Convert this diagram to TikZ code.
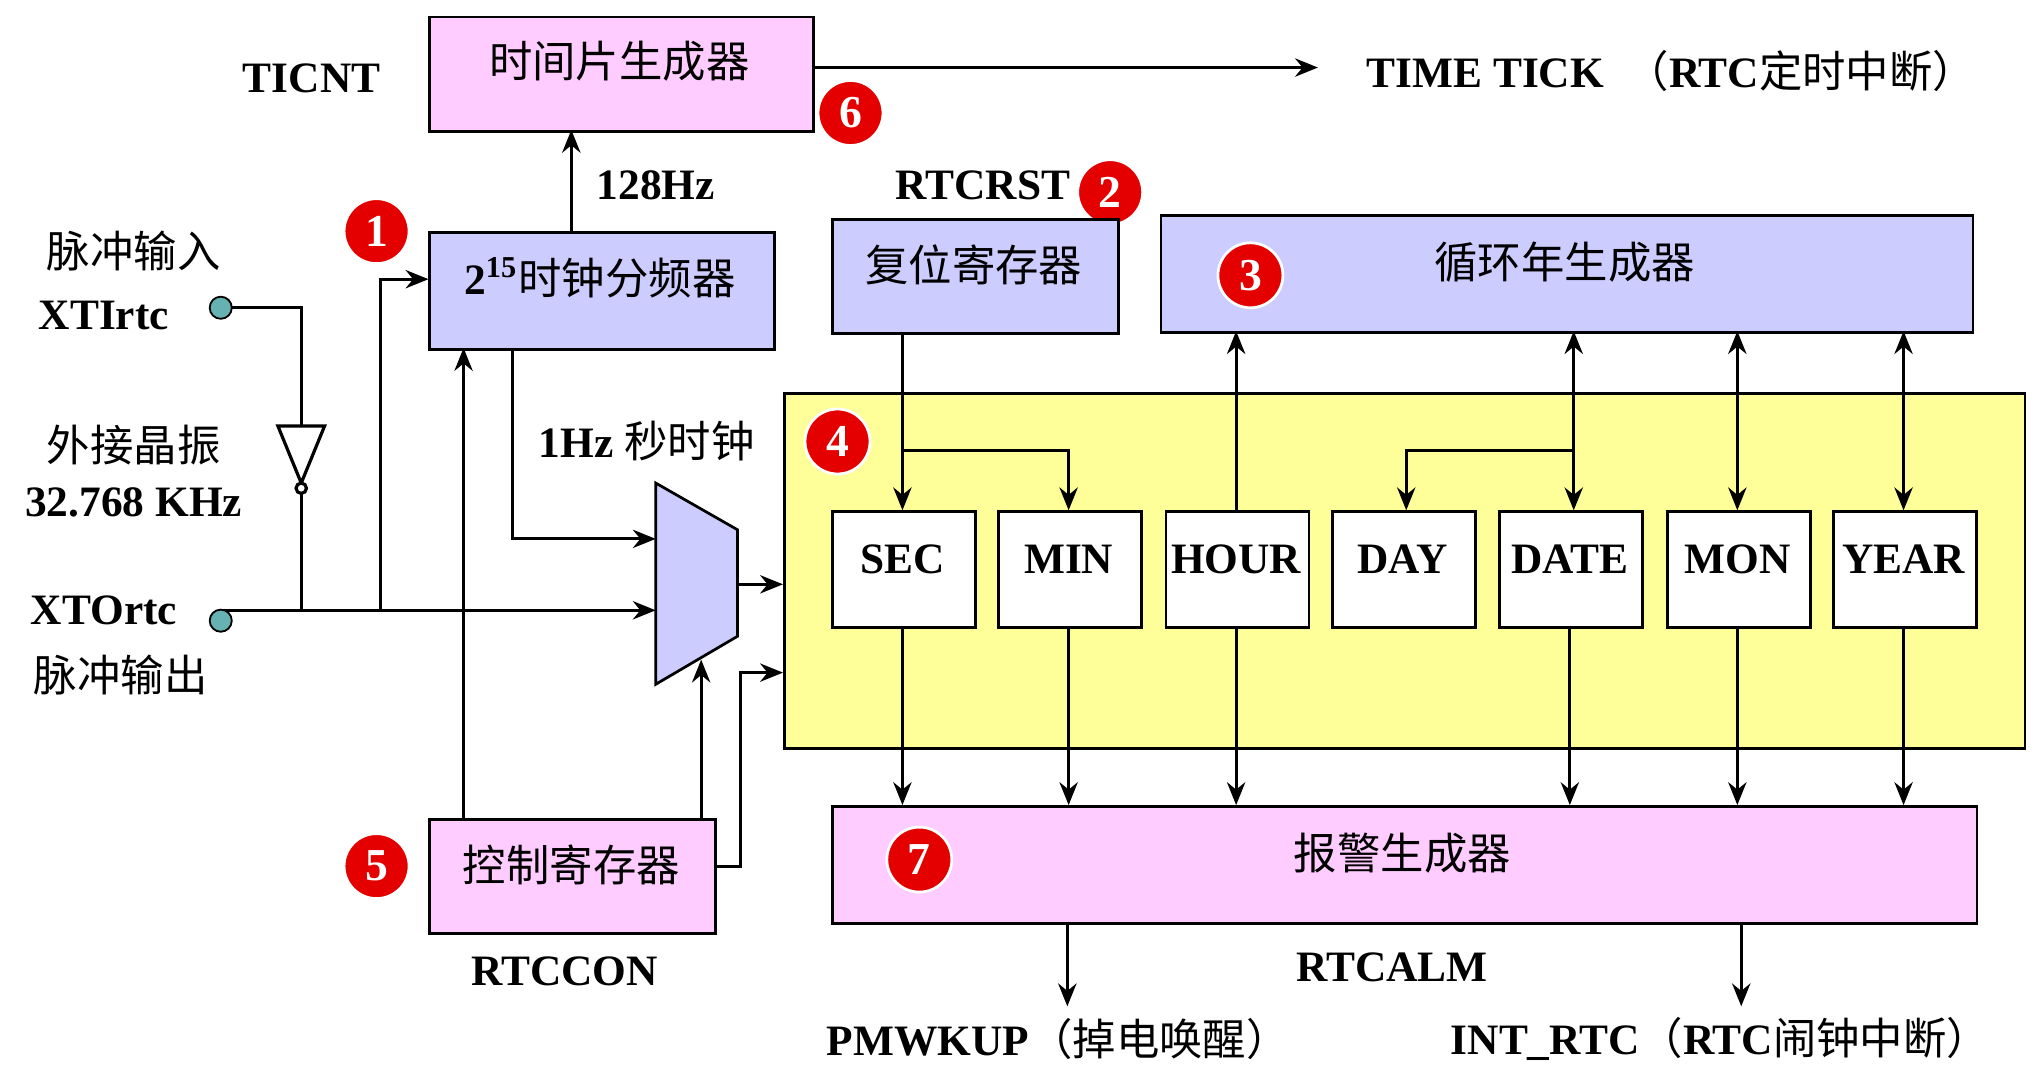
\documentclass[tikz,border=0pt]{standalone}
\usepackage{fontspec}
\setmainfont{Liberation Serif}
\newfontfamily\cjkf{Noto Sans CJK SC}
\newcommand\cjk{\cjkf\mdseries}
\usetikzlibrary{arrows.meta}
\begin{document}
\begin{tikzpicture}[x=0.01cm,y=-0.01cm,
  every node/.style={font=\fontsize{9.5}{11}\selectfont\bfseries},
  box/.style={draw,line width=0.6pt,anchor=north west,inner sep=0},
  pinkb/.style={box,fill=pinkc},
  blueb/.style={box,fill=bluec},
  reg/.style={box,fill=white,minimum width=1.1cm,minimum height=0.89cm},
  num/.style={circle,fill=red!90!black,draw=white,line width=0.6pt,text=white,inner sep=0,minimum size=0.5cm,font=\fontsize{10}{11}\selectfont\bfseries},
  term/.style={circle,fill=teal!60,draw=black,line width=0.4pt,inner sep=0,minimum size=0.17cm},
  ar/.style={-{Stealth[length=5pt,width=4pt]},line width=0.7pt},
  dar/.style={{Stealth[length=5pt,width=4pt]}-{Stealth[length=5pt,width=4pt]},line width=0.7pt},
  ln/.style={line width=0.7pt}]
\definecolor{pinkc}{HTML}{FFCCFF}
\definecolor{bluec}{HTML}{CCCCFF}
\definecolor{yelc}{HTML}{FFFF99}
\useasboundingbox (0,0) rectangle (1568,826);
% boxes
\node[pinkb,minimum width=2.95cm,minimum height=0.88cm] (b6) at (330,12) {};
\node at (477,47) {\cjk 时间片生成器};
\node at (240,60) {TICNT};
\node[num] (n6) at (655,87) {6};
\coordinate (tt) at (1015,52);
\draw[ar] (625,52) -- (tt);
\node[anchor=west] (ttl) at (1040,55) {TIME TICK \ {\cjk （}RTC{\cjk 定时中断）}};
\node[blueb,minimum width=2.65cm,minimum height=0.9cm] (b1) at (330,178) {};
\node at (462,214) {2\textsuperscript{15}{\cjk 时钟分频器}};
\node[num] (n1) at (290,178) {1};
\draw[ar] (440,178) -- (440,100);
\node at (505,143) {128Hz};
\node at (757,143) {RTCRST};
\node[num] (n2) at (855,148) {2};
\node[blueb,minimum width=2.2cm,minimum height=0.88cm] (b2) at (640,168) {};
\node at (750,204) {\cjk 复位寄存器};
\node[blueb,minimum width=6.25cm,minimum height=0.9cm] (b3) at (893,165) {};
\node at (1205,202) {\cjk 循环年生成器};
\node[num] (n3) at (963,212) {3};
\node[box,fill=yelc,minimum width=9.55cm,minimum height=2.73cm] (b4) at (603,302) {};
\node[num] (n4) at (645,340) {4};
\foreach \n/\x in {SEC/640,MIN/768,HOUR/897,DAY/1025,DATE/1154,MON/1283,YEAR/1411}{
  \node[reg] (\n) at (\x,393) {};
  \node at (\x+55,431) {\n};
}
\node[pinkb,minimum width=8.81cm,minimum height=0.9cm] (b7) at (640,620) {};
\node at (1080,657) {\cjk 报警生成器};
\node[num] (n7) at (708,662) {7};
\node at (1072,745) {RTCALM};
\draw[ar] (822,710) -- (822,775);
\draw[ar] (1341,710) -- (1341,775);
\node (pm) at (815,800) {PMWKUP{\cjk （掉电唤醒）}};
\node (ir) at (1325,800) {INT\_RTC{\cjk （}RTC{\cjk 闹钟中断）}};
\foreach \x in {695,823,952,1209,1338,1466} \draw[ar] (\x,482) -- (\x,620);
\draw[ar] (695,256) -- (695,393);
\draw[ar] (695,347) -- (823,347) -- (823,393);
\draw[ar] (952,393) -- (952,255);
\draw[dar] (1212,255) -- (1212,393);
\draw[ar] (1212,347) -- (1083,347) -- (1083,393);
\draw[dar] (1338,255) -- (1338,393);
\draw[dar] (1466,255) -- (1466,393);
% control
\node[pinkb,minimum width=2.2cm,minimum height=0.88cm] (b5) at (330,630) {};
\node at (440,666) {\cjk 控制寄存器};
\node[num] (n5) at (290,667) {5};
\node at (435,748) {RTCCON};
% mux
\draw[fill=bluec,line width=0.6pt] (505,372) -- (568,408) -- (568,490) -- (505,527) -- cycle;
\node at (498,340) {1Hz {\cjk 秒时钟}};
\draw[ar] (395,268) -- (395,415) -- (505,415);
\draw[ar] (170,470) -- (505,470);
\draw[ar] (568,450) -- (603,450);
\draw[ar] (550,667) -- (570,667) -- (570,518) -- (603,518);
\draw[ar] (540,630) -- (540,508);
\draw[ar] (357,630) -- (357,268);
\draw[ar] (293,470) -- (293,215) -- (330,215);
% XTI
\draw[ln] (170,237) -- (232,237) -- (232,328);
\draw[ln,fill=white] (214,328) -- (250,328) -- (232,372) -- cycle;
\draw[ln,fill=white] (232,376) circle (4);
\draw[ln] (232,380) -- (232,470);
\node[term] at (170,237) {};
\node[term] at (170,478) {};
\node at (103,193) {\cjk 脉冲输入};
\node at (80,243) {XTIrtc};
\node at (103,343) {\cjk 外接晶振};
\node at (103,387) {32.768 KHz};
\node at (80,470) {XTOrtc};
\node at (93,520) {\cjk 脉冲输出};
\end{tikzpicture}
\end{document}
